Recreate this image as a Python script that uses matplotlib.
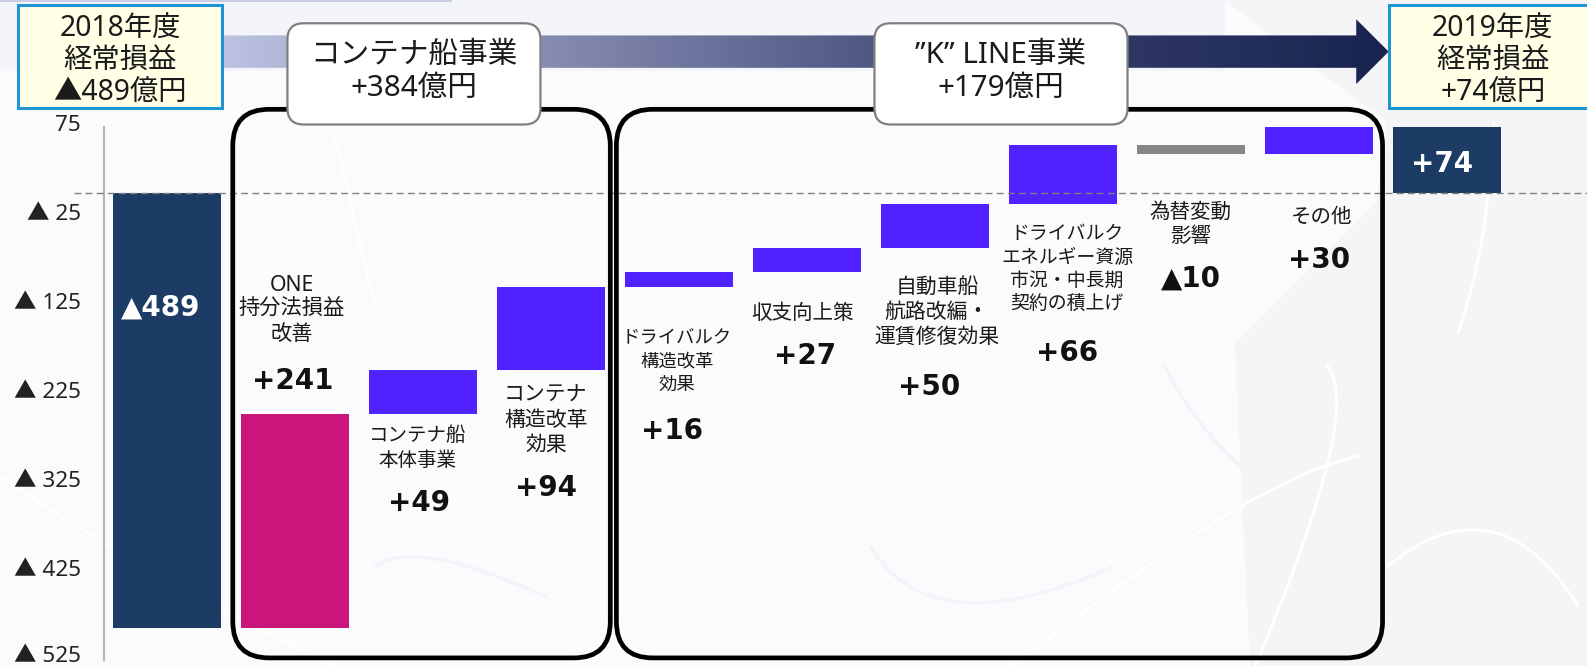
import numpy as np
import matplotlib as mpl
mpl.use("Agg")
import matplotlib.pyplot as plt
from matplotlib.patches import FancyBboxPatch, PathPatch, Polygon, Rectangle
from matplotlib.path import Path
from matplotlib.transforms import ScaledTranslation

plt.rcParams['font.family'] = ['Noto Sans', 'Noto Sans CJK JP', 'DejaVu Sans']

W, H = 1568, 658   # layout grid, scaled up to the real figure size

# data
start_value = -489
end_value = 74
steps = [241, 49, 94, 16, 27, 50, 66, -10, 30]
step_labels = ['ONE\n持分法損益\n改善', 'コンテナ船\n本体事業', 'コンテナ\n構造改革\n効果',
               'ドライバルク\n構造改革\n効果', '収支向上策', '自動車船\n航路改編・\n運賃修復効果',
               'ドライバルク\nエネルギー資源\n市況・中長期\n契約の積上げ', '為替変動\n影響', 'その他']
y_ticks = [75, -25, -125, -225, -325, -425, -525]
y_tick_labels = ['75', '▲ 25', '▲ 125', '▲ 225', '▲ 325', '▲ 425', '▲ 525']
left_head = '2018年度\n経常損益\n▲489億円'
right_head = '2019年度\n経常損益\n+74億円'
group_heads = ['コンテナ船事業\n+384億円', '”K” LINE事業\n+179億円']

#colors
navy = '#1C3C66'
magenta = '#C9157C'
violet = '#4F22FF'
grey = '#868686'
step_colors = [magenta] + [violet]*6 + [grey, violet]

#placement of the text next to the bars
label_y = [306, 443, 415, 357, 310, 309, 266, 222, 215]
value_y = [376, 497, 482, 426, 352, 382, 349, 275, 257]
label_dx = [-3, -5, -5, -2, -4, 2, 4, 0, 3]
value_dx = [-2, -4, -5, -7, -2, -6, 4, 0, 0]
label_size = [15.3, 14, 15, 13.2, 14.8, 15, 13.6, 14.8, 14.8]

fig = plt.figure(figsize=(15.87, 6.66), dpi=100)
fig.patch.set_facecolor('#F9FBFD')

#background layer
bg = fig.add_axes([0, 0, 1, 1], zorder=0)
bg.set_xlim(0, W)
bg.set_ylim(H, 0)
bg.axis('off')
bg.add_patch(Polygon([(1210, 0), (W, 0), (W, H), (1235, H), (1220, 340), (1360, 200), (1370, 120)],
                     fc='#F5F5F8', ec='none'))
bg.add_patch(Rectangle((0, 0), 1210, 70, fc='#F3F5F9', ec='none'))
bg.add_patch(Rectangle((0, 0), 447, 1.5, fc='#C8CEE8', ec='none'))
for p0, p1, p2 in [((0, 470), (130, 560), (330, H)), ((1000, H), (1240, 470), (1345, 450)),
                   ((1240, H), (1350, 400), (1310, 360)), ((330, 130), (350, 220), (370, 300)),
                   ((1370, 560), (1480, 470), (1560, 600)), ((1440, 330), (1470, 250), (1476, 120))]:
    bg.add_patch(PathPatch(Path([p0, p1, p2], [Path.MOVETO, Path.CURVE3, Path.CURVE3]),
                           fc='none', ec='white', lw=2))
for p0, p1, p2 in [((370, 560), (410, 530), (540, 590)), ((860, 540), (920, 640), (1100, 560)),
                   ((1150, 360), (1180, 420), (1225, 460))]:
    bg.add_patch(PathPatch(Path([p0, p1, p2], [Path.MOVETO, Path.CURVE3, Path.CURVE3]),
                           fc='none', ec='#F3F4F7', lw=2.5))

#chart layer
left, right, top, bottom = 103, W, 125, 652.5
ax = fig.add_axes([left/W, 1-bottom/H, (right-left)/W, (bottom-top)/H], zorder=1)
ax.patch.set_alpha(0)
x0, dx = 165, 126.45
ax.set_xlim((left-x0)/dx, (right-x0)/dx)
ax.set_ylim(-525, 75)

cum = start_value
ax.bar(0, start_value, width=0.84, color=navy)
for i, v in enumerate(steps):
    ax.bar(i+1, abs(v), bottom=min(cum, cum+v), width=0.84, color=step_colors[i])
    cum += v
ax.bar(len(steps)+1, end_value, width=0.84, color=navy)
ax.axhline(0, xmin=(73-left)/(right-left), xmax=1.0,
           color='#808080', lw=1, ls=(0, (5, 3)), clip_on=False, zorder=5)

ax.set_yticks(y_ticks)
ax.set_yticklabels(y_tick_labels, fontsize=16.2, color='#222222')
ax.set_xticks([])
ax.tick_params(axis='y', length=0, pad=17)
for tick, tl in zip(y_ticks, ax.get_yticklabels()):
    tl.set_verticalalignment('center')
    #lowest label sits tight against the bottom edge, lift it a bit more
    lift = 3 if tick == y_ticks[-1] else 1
    tl.set_transform(tl.get_transform() + ScaledTranslation(0, lift/72, fig.dpi_scale_trans))
for s in ['top', 'right', 'bottom']:
    ax.spines[s].set_visible(False)
ax.spines['left'].set_color('#B4B4B4')
ax.spines['left'].set_linewidth(1.5)

#top layer in layout coordinates
ov = fig.add_axes([0, 0, 1, 1], zorder=2)
ov.patch.set_alpha(0)
ov.axis('off')

#arrow with gradient
arrow = Polygon([(218, 35), (1340, 35), (1340, 19), (1372, 51), (1340, 83), (1340, 67), (218, 67)],
                fc='none', ec='none', transform=ov.transData)
ov.add_patch(arrow)
cmap = mpl.colors.LinearSegmentedColormap.from_list(
    'arrow', [(0, '#BCC2E0'), (0.3, '#8287AE'), (0.55, '#515A85'), (0.8, '#2C3562'), (1, '#18244F')])
im = ov.imshow(np.linspace(0, 1, 256).reshape(1, -1), extent=(218, 1372, 83, 19), cmap=cmap, aspect='auto')
ov.set_xlim(0, W)
ov.set_ylim(H, 0)
im.set_clip_path(arrow)

def round_box(x1, y1, x2, y2, r, **kw):
    ov.add_patch(FancyBboxPatch((x1+r, y1+r), x2-x1-2*r, y2-y1-2*r,
                                boxstyle='round,pad=%g,rounding_size=%g' % (r, r), **kw))

round_box(230, 108, 603, 650, 36, fc='none', ec='black', lw=3.4)
round_box(609, 108, 1366, 650, 36, fc='none', ec='black', lw=3.4)
round_box(284, 23, 534, 123, 16, fc='white', ec='#7F7F7F', lw=1.6)
round_box(864, 23, 1114, 123, 16, fc='white', ec='#7F7F7F', lw=1.6)

for xy, w in [((18, 5), 201), ((1372, 5), 230)]:
    ov.add_patch(Rectangle(xy, w, 102, fc='#FFFFE6', ec='#1E96D6', lw=2.2))

ov.text(119, 60, left_head, ha='center', va='center', fontsize=20.4, color='#1a1a1a', linespacing=1.17)
ov.text(1475, 60, right_head, ha='center', va='center', fontsize=20.4, color='#1a1a1a', linespacing=1.17)
ov.text(409, 71.5, group_heads[0], ha='center', va='center', fontsize=21.3, color='#1a1a1a', linespacing=1.18)
ov.text(989, 71.5, group_heads[1], ha='center', va='center', fontsize=21.3, color='#1a1a1a', linespacing=1.18)

#bar captions and values
bold = ['DejaVu Sans', 'Noto Sans CJK JP']
for i, v in enumerate(steps):
    xc = x0 + dx*(i+1)
    ov.text(xc+label_dx[i], label_y[i], step_labels[i], ha='center', va='center', fontsize=label_size[i],
            color='#1a1a1a', linespacing=1.25*15/label_size[i])
    txt = ('+%d' % v) if v > 0 else ('▲%d' % abs(v))
    ov.text(xc+value_dx[i], value_y[i], txt, ha='center', va='center', fontsize=20, fontweight='bold',
            family=bold, color='#111111')

ov.text(x0-6, 304, '▲%d' % abs(start_value), ha='center', va='center', fontsize=20,
        fontweight='bold', family=bold, color='white')
ov.text(x0+dx*10-5, 162, '+%d' % end_value, ha='center', va='center', fontsize=20,
        fontweight='bold', family=bold, color='white')

fig.savefig('out.png', dpi=100)
